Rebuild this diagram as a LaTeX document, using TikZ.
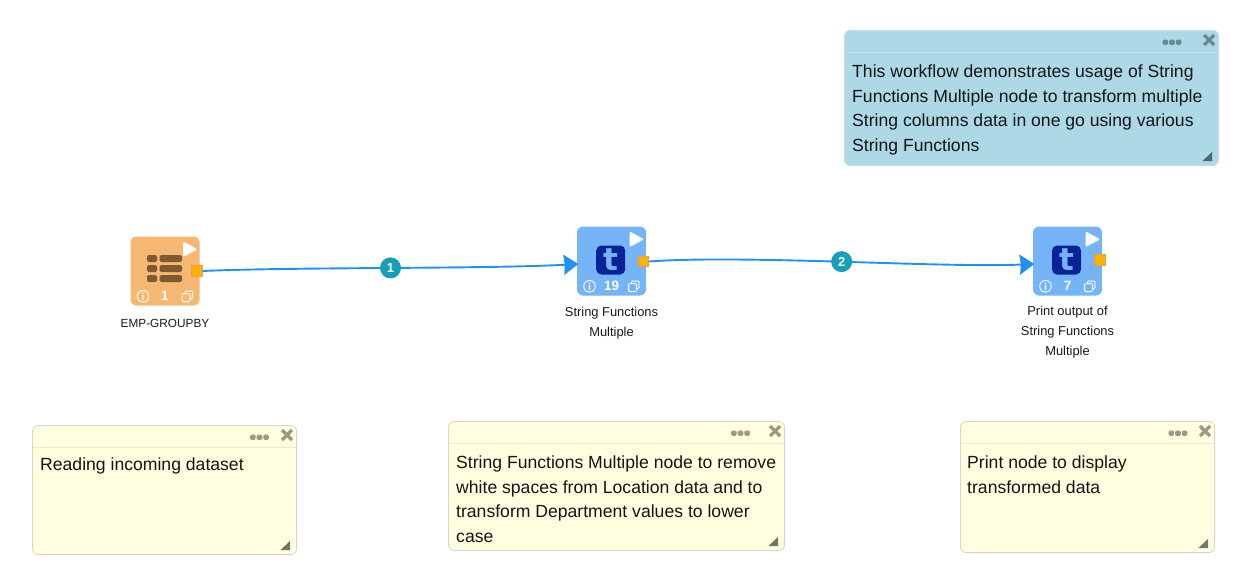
\documentclass[tikz,border=0pt]{standalone}
\usepackage{fontspec}
\setmainfont{Liberation Sans}
\newfontfamily\tfont{DejaVu Sans}
\usetikzlibrary{arrows.meta}
\definecolor{orangebg}{HTML}{F5B771}
\definecolor{bluebg}{HTML}{76B4F8}
\definecolor{portc}{HTML}{F9B208}
\definecolor{portedge}{HTML}{F59A45}
\definecolor{flowc}{HTML}{2291F5}
\definecolor{badgec}{HTML}{169FB8}
\definecolor{tdark}{HTML}{0A2299}
\definecolor{barc}{HTML}{7E5A32}
\definecolor{yellowbg}{HTML}{FFFFE0}
\definecolor{yellowedge}{HTML}{D6D6C6}
\definecolor{yellowline}{HTML}{E9E9CF}
\definecolor{yellowicon}{HTML}{9A9A86}
\definecolor{bluenote}{HTML}{ADD8E6}
\definecolor{bluenoteline}{HTML}{BFE1EC}
\definecolor{bluenoteedge}{HTML}{C4DCE6}
\definecolor{blueicon}{HTML}{6B8894}
\tikzset{
  x=1pt,y=-1pt,
  toolbox/.style={rounded corners=6pt,minimum width=69pt,minimum height=69pt,inner sep=0pt},
  portbox/.style={draw=portedge,line width=.8pt,fill=portc,minimum size=10.5pt,inner sep=0pt},
  flow/.style={draw=flowc,line width=1.9pt,-{Stealth[length=14.5pt,width=20pt,inset=1pt]}},
  badge/.style={circle,fill=badgec,text=white,minimum size=21pt,inner sep=0pt,font=\bfseries\fontsize{13}{13}\selectfont},
  caption/.style={align=center,text=black!90,font=\fontsize{12.9}{20}\selectfont,inner sep=0pt},
  captionsmall/.style={caption,font=\fontsize{11.8}{20}\selectfont},
  notetext/.style={anchor=north west,align=left,inner sep=0pt,text=black!92,font=\fontsize{17.6}{24.6}\selectfont},
  countlabel/.style={text=white,inner sep=0pt,font=\bfseries\fontsize{13.5}{13.5}\selectfont},
  playicon/.style={fill=white,draw=white,line width=2pt,line join=round},
}
% #1 name, #2 x0, #3 y0, #4 x1, #5 y1, #6 fill, #7 edge, #8 header line, #9 icon colour; \dotsoff = dots centre from x1
\newcommand{\notecard}[9]{%
  \node[draw=#7,fill=#6,line width=.8pt,rounded corners=6pt,anchor=north west,inner sep=0pt,
        minimum width=#4pt-#2pt-.8pt,minimum height=#5pt-#3pt-.8pt] (#1) at (#2,#3) {};
  \draw[#8,line width=1pt] (#2+1,#3+22) -- (#4-1,#3+22);
  \foreach \dx in {-6.6,0,6.6} {\fill[#9,rounded corners=1.4pt] (#4+\dotsoff+\dx-2.8,#3+9.5) rectangle +(5.6,5.4);}
  \draw[#9,line width=3.2pt] (#4-15,#3+5) -- (#4-5,#3+15) (#4-5,#3+5) -- (#4-15,#3+15);
  \fill[#9!75!black] (#4-7,#5-14) -- (#4-7,#5-5) -- (#4-16.5,#5-5) -- cycle;
}
% bottom controls of a tool: #1 centre x, #2 centre y, #3 count
\newcommand{\toolicons}[3]{%
  \draw[white,line width=.9pt] (#1-22,#2+25.3) circle (5.8pt);
  \fill[white] (#1-22.6,#2+24.2) rectangle +(1.2,4.6) (#1-22.6,#2+21.6) rectangle +(1.2,1.4);
  \node[countlabel] (count#3) at (#1,#2+25) {#3};
  \draw[white,line width=1pt,rounded corners=1pt] (#1+17,#2+22.5) rectangle +(8,8);
  \draw[white,line width=1pt,rounded corners=1pt] (#1+20,#2+22.5) -- (#1+20,#2+20) -- (#1+27.5,#2+20) -- (#1+27.5,#2+27.5) -- (#1+25,#2+27.5);
}
\newcommand{\playglyph}[2]{%
  \filldraw[playicon] (#1+19,#2-28) -- (#1+19,#2-15.5) -- (#1+30.5,#2-21.7) -- cycle;
}
\newcommand{\tglyph}[3]{%
  \node[fill=tdark,rounded corners=5pt,minimum size=29pt,inner sep=0pt,text=bluebg,
        font=\tfont\bfseries\fontsize{31}{31}\selectfont] (#3) at (#1,#2-1) {t};
}
\begin{document}
\begin{tikzpicture}
\useasboundingbox (0,0) rectangle (1236,570);
\fill[white] (0,0) rectangle (1236,570);

% tools
\node[toolbox,fill=orangebg] (n1) at (165,271) {};
\node[toolbox,fill=bluebg] (n2) at (611.5,261) {};
\node[toolbox,fill=bluebg] (n3) at (1067.5,261) {};

% table glyph
\foreach \yy in {258.5,268.5,278.5} {
  \fill[barc,rounded corners=1.6pt] (147,\yy-3.5) rectangle (157,\yy+3.5);
  \fill[barc,rounded corners=1.6pt] (159.5,\yy-3.5) rectangle (182,\yy+3.5);
}
\tglyph{610.7}{261}{t2}
\tglyph{1066.5}{261}{t3}

\playglyph{165}{271}
\playglyph{611.5}{261}
\playglyph{1067.5}{261}
\toolicons{165}{271}{1}
\toolicons{611.5}{261}{19}
\toolicons{1067.5}{261}{7}

% ports
\node[portbox] (p1) at (197,271) {};
\node[portbox] (p2) at (643.3,261.5) {};
\node[portbox] (p3) at (1100,260) {};

% connectors
\draw[flow] (p1.east) .. controls +(90,-4) and +(-90,5) .. ([xshift=1.5pt,yshift=-3pt]n2.west) node[badge,pos=.5] (b1) {1};
\draw[flow] (p2.east) .. controls +(95,-7) and +(-95,4) .. ([xshift=1.5pt,yshift=-3pt]n3.west) node[badge,pos=.5] (b2) {2};

% captions
\node[captionsmall] (c1) at (165,323) {EMP-GROUPBY};
\node[caption] (c2) at (611.5,322.7) {String Functions\\Multiple};
\node[caption] (c3) at (1067.5,332) {Print output of\\String Functions\\Multiple};

% notes
\def\dotsoff{-47}
\notecard{noteA}{844}{30}{1219}{166}{bluenote}{bluenoteedge}{bluenoteline}{blueicon}
\node[notetext] (tA) at (852,64.7) {This workflow demonstrates usage of String\\Functions Multiple node to transform multiple\\String columns data in one go using various\\String Functions};

\def\dotsoff{-37.5}
\notecard{noteB}{32}{425}{297}{555}{yellowbg}{yellowedge}{yellowline}{yellowicon}
\node[notetext] (tB) at (40,457.5) {Reading incoming dataset};

\def\dotsoff{-44.5}
\notecard{noteC}{448}{421}{785}{551}{yellowbg}{yellowedge}{yellowline}{yellowicon}
\node[notetext] (tC) at (456,455.7) {String Functions Multiple node to remove\\white spaces from Location data and to\\transform Department values to lower\\case};

\def\dotsoff{-37}
\notecard{noteD}{960}{421}{1215}{553}{yellowbg}{yellowedge}{yellowline}{yellowicon}
\node[notetext] (tD) at (967,455.7) {Print node to display\\transformed data};
\end{tikzpicture}
\end{document}
